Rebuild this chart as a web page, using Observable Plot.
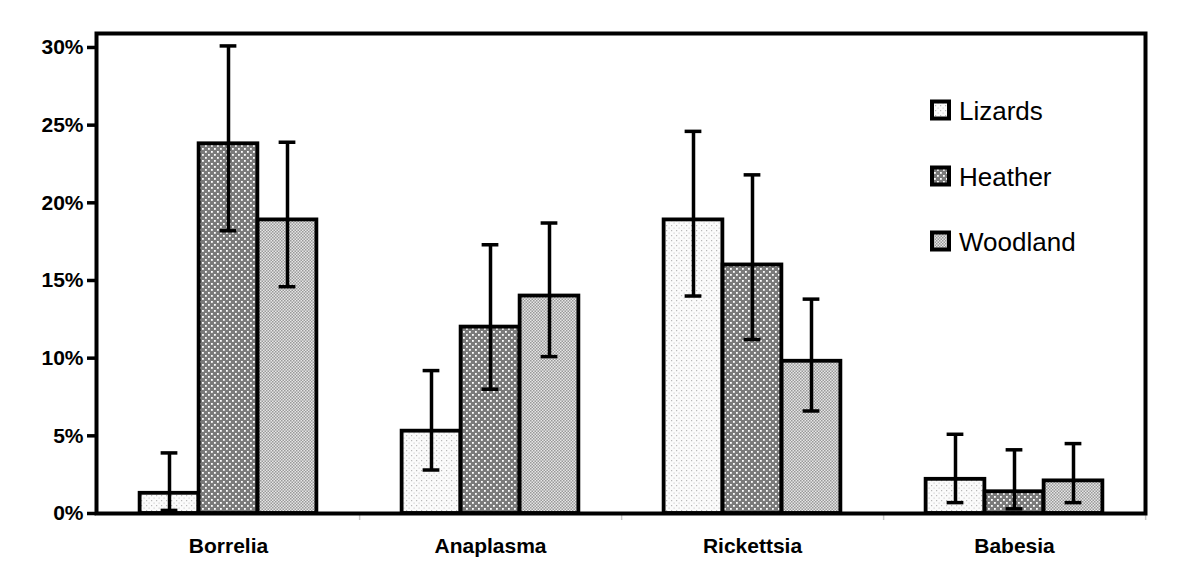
<!DOCTYPE html>
<html>
<head>
<meta charset="utf-8">
<script src="https://cdn.jsdelivr.net/npm/d3@7"></script>
<script src="https://cdn.jsdelivr.net/npm/@observablehq/plot@0.6"></script>
<style>
  html, body { margin: 0; padding: 0; background: #fff; }
  #chart { width: 1200px; height: 584px; }
</style>
</head>
<body>
<div id="chart"></div>
<script>
// ---- data (proportions) ----
const categories = ["Borrelia", "Anaplasma", "Rickettsia", "Babesia"];
const series = ["Lizards", "Heather", "Woodland"];

const lizardsValue  = [0.013, 0.053, 0.189, 0.022];
const lizardsLow    = [0.002, 0.028, 0.140, 0.007];
const lizardsHigh   = [0.039, 0.092, 0.246, 0.051];

const heatherValue  = [0.238, 0.120, 0.160, 0.014];
const heatherLow    = [0.182, 0.080, 0.112, 0.003];
const heatherHigh   = [0.301, 0.173, 0.218, 0.041];

const woodlandValue = [0.189, 0.140, 0.098, 0.021];
const woodlandLow   = [0.146, 0.101, 0.066, 0.007];
const woodlandHigh  = [0.239, 0.187, 0.138, 0.045];

const yTicks = [0, 0.05, 0.10, 0.15, 0.20, 0.25, 0.30];

// table built from the arrays
const seriesArrays = {
  Lizards: [lizardsValue, lizardsLow, lizardsHigh],
  Heather: [heatherValue, heatherLow, heatherHigh],
  Woodland: [woodlandValue, woodlandLow, woodlandHigh]
};
const rows = [];
series.forEach(s => {
  const [v, lo, hi] = seriesArrays[s];
  categories.forEach((c, i) => rows.push({category: c, series: s, value: v[i], lo: lo[i], hi: hi[i]}));
});

// ---- styling ----
const FONT = "'Liberation Sans', Arial, Helvetica, sans-serif";
const W = 1200, H = 584;
const mL = 96, mR = 55, mT = 33, mB = 71;
const band = (W - mL - mR) / categories.length;
const barW = 59;
const capW = 17;
const offsets = {Lizards: -barW, Heather: 0, Woodland: barW};
const patterns = {Lizards: "url(#pat-lizards)", Heather: "url(#pat-heather)", Woodland: "url(#pat-woodland)"};
const barInset = (band - barW) / 2;
const capInset = (band - capW) / 2;

const marks = [];
series.forEach(s => {
  const d = rows.filter(r => r.series === s);
  marks.push(Plot.barY(d, {
    x: "category", y: "value", dx: offsets[s],
    insetLeft: barInset, insetRight: barInset,
    fill: patterns[s], stroke: "black", strokeWidth: 3.8
  }));
});
series.forEach(s => {
  const d = rows.filter(r => r.series === s);
  marks.push(Plot.ruleX(d, {x: "category", y1: "lo", y2: "hi", dx: offsets[s], stroke: "black", strokeWidth: 3.5}));
  marks.push(Plot.tickY(d, {x: "category", y: "hi", dx: offsets[s], insetLeft: capInset, insetRight: capInset, stroke: "black", strokeWidth: 3.5}));
  marks.push(Plot.tickY(d, {x: "category", y: "lo", dx: offsets[s], insetLeft: capInset, insetRight: capInset, stroke: "black", strokeWidth: 3.5}));
});
// faint category-boundary ticks below the axis
marks.push(Plot.ruleX(categories, {x: d => d, dx: band / 2, y1: 0, y2: -0.0045, stroke: "#c8c8c8", strokeWidth: 1.5}));
marks.push(Plot.axisY({
  ticks: yTicks, tickFormat: d3.format(".0%"), tickSize: 9, tickPadding: 4,
  fontSize: 21, fontWeight: "bold", strokeWidth: 3.5
}));
marks.push(Plot.axisX({tickSize: 0, tickPadding: 25, fontSize: 21, fontWeight: "bold"}));
marks.push(Plot.frame({stroke: "black", strokeWidth: 4}));

const plot = Plot.plot({
  width: W, height: H,
  marginLeft: mL, marginRight: mR, marginTop: mT, marginBottom: mB,
  style: {fontFamily: FONT, color: "black", background: "white", overflow: "visible"},
  x: {type: "band", domain: categories, paddingInner: 0, paddingOuter: 0, label: null},
  y: {domain: [0, 0.309], label: null},
  marks
});

// pattern definitions
const svg = d3.select(plot);
const defs = svg.insert("defs", ":first-child");
const pl = defs.append("pattern").attr("id", "pat-lizards").attr("patternUnits", "userSpaceOnUse").attr("width", 5).attr("height", 5);
pl.append("rect").attr("width", 5).attr("height", 5).attr("fill", "#fbfbfb");
pl.append("rect").attr("x", 0).attr("y", 0).attr("width", 1.2).attr("height", 1.2).attr("fill", "#b8b8b8");
pl.append("rect").attr("x", 2.5).attr("y", 2.5).attr("width", 1.2).attr("height", 1.2).attr("fill", "#cfcfcf");

const ph = defs.append("pattern").attr("id", "pat-heather").attr("patternUnits", "userSpaceOnUse").attr("width", 6).attr("height", 6);
ph.append("rect").attr("width", 6).attr("height", 6).attr("fill", "#7a7a7a");
ph.append("rect").attr("x", 1).attr("y", 1).attr("width", 1.8).attr("height", 1.8).attr("fill", "#ffffff");
ph.append("rect").attr("x", 4).attr("y", 4).attr("width", 1.8).attr("height", 1.8).attr("fill", "#ffffff");

const pw = defs.append("pattern").attr("id", "pat-woodland").attr("patternUnits", "userSpaceOnUse").attr("width", 3).attr("height", 3);
pw.append("rect").attr("width", 3).attr("height", 3).attr("fill", "#e6e6e6");
pw.append("rect").attr("x", 0).attr("y", 0).attr("width", 1.5).attr("height", 1.5).attr("fill", "#999999");
pw.append("rect").attr("x", 1.5).attr("y", 1.5).attr("width", 1.5).attr("height", 1.5).attr("fill", "#999999");

// legend inside the plot area
const legendY = [110, 176, 241];
const lg = svg.append("g").attr("font-family", FONT).attr("text-anchor", "start");
series.forEach((s, i) => {
  const cy = legendY[i];
  lg.append("rect").attr("x", 932).attr("y", cy - 8.5).attr("width", 17).attr("height", 17)
    .attr("fill", patterns[s]).attr("stroke", "black").attr("stroke-width", 4);
  lg.append("text").attr("x", 959).attr("y", cy + 9.5).attr("font-size", 26)
    .attr("text-anchor", "start").attr("fill", "black").text(s);
});

document.getElementById("chart").appendChild(plot);
</script>
</body>
</html>
